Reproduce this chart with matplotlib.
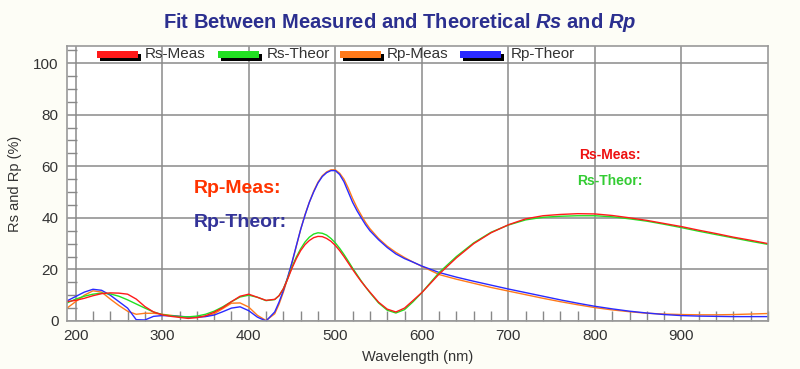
import matplotlib
matplotlib.use("Agg")
import matplotlib.pyplot as plt
from matplotlib.patches import Rectangle
from matplotlib.ticker import MultipleLocator

plt.rcParams['font.family'] = ['Liberation Sans', 'DejaVu Sans']
plt.rcParams['mathtext.fontset'] = 'custom'
plt.rcParams['mathtext.it'] = 'Liberation Sans:italic:bold'
plt.rcParams['mathtext.rm'] = 'Liberation Sans:bold'

# wavelength (nm)
wl = [190, 200, 210, 220, 230, 240, 250, 260, 270, 280, 290, 300, 310, 320, 330,
      340, 350, 360, 370, 380, 390, 400, 410, 420,
      430, 435, 440, 445, 450, 455, 460, 465, 470, 475, 480, 485,
      490, 495, 500, 505, 510, 515, 520, 525, 530, 535, 540,
      550, 560, 570, 580, 590, 600,
      620, 640, 660, 680, 700, 720, 740, 760, 780, 800, 820, 840, 860, 880, 900,
      920, 940, 960, 980, 1000]

rs_meas = [7.5, 8.0, 8.8, 9.8, 10.6, 10.9, 10.8, 10.4, 8.5, 5.6, 3.5, 2.4, 1.8, 1.4, 1.0,
           1.3, 2.0, 3.4, 5.2, 7.5, 9.6, 10.4, 9.2, 8.0,
           8.4, 9.8, 12.5, 16.3, 20.5, 24.2, 27.3, 29.6, 31.2, 32.3, 32.8, 32.7,
           32.0, 30.9, 29.3, 27.3, 25.0, 22.5, 20.0, 17.6, 15.3, 13.2, 11.2,
           7.3, 4.6, 3.5, 5.0, 8.0, 11.0,
           18.2, 24.5, 30.0, 34.2, 37.3, 39.6, 40.8, 41.3, 41.6, 41.5, 40.9, 40.0, 39.0, 37.8, 36.6,
           35.2, 33.9, 32.5, 31.3, 30.0]

rs_theor = [7.0, 8.5, 9.6, 10.4, 10.8, 10.5, 9.6, 8.2, 6.6, 5.0, 3.5, 2.5, 2.0, 1.7, 1.6,
            1.9, 2.6, 3.8, 5.5, 7.5, 9.3, 10.0, 9.2, 7.9,
            8.3, 9.8, 12.5, 16.5, 21.0, 24.8, 28.0, 30.6, 32.5, 33.7, 34.2, 34.0,
            33.3, 32.0, 30.3, 28.2, 25.8, 23.2, 20.5, 18.0, 15.5, 13.2, 11.0,
            7.0, 4.2, 3.1, 4.4, 7.5, 11.0,
            18.8, 25.0, 30.3, 34.4, 37.2, 39.2, 40.2, 40.6, 40.8, 40.8, 40.4, 39.6, 38.7, 37.5, 36.2,
            34.8, 33.5, 32.2, 30.9, 29.7]

rp_meas = [5.0, 7.5, 10.0, 11.7, 11.2, 8.5, 6.0, 3.8, 2.6, 3.0, 3.0, 2.6, 2.2, 1.8, 1.5,
           1.5, 1.8, 2.8, 4.8, 6.9, 7.0, 5.4, 2.2, 0.2,
           2.8, 6.5, 11.2, 16.6, 22.5, 29.0, 35.5, 41.2, 46.0, 50.3, 53.8, 56.3,
           57.8, 58.6, 58.6, 57.3, 55.0, 51.5, 47.5, 44.0, 41.0, 38.2, 35.8,
           32.0, 29.0, 26.6, 24.6, 22.8, 21.2,
           18.0, 16.2, 14.6, 13.0, 11.6, 10.2, 8.8, 7.5, 6.3, 5.2, 4.3, 3.6, 3.0, 2.7, 2.5,
           2.4, 2.4, 2.5, 2.7, 2.9]

rp_theor = [7.8, 9.5, 11.2, 12.3, 11.9, 10.0, 7.5, 5.0, 0.5, 0.4, 1.8, 2.1, 2.0, 1.8, 1.6,
            1.5, 1.7, 2.3, 3.6, 5.0, 5.5, 4.0, 1.5, 0.0,
            3.5, 7.3, 11.8, 17.0, 22.8, 29.2, 35.5, 41.0, 46.0, 50.0, 53.5, 56.0,
            57.5, 58.3, 58.3, 56.8, 54.0, 50.0, 46.0, 42.8, 40.0, 37.3, 35.0,
            31.5, 28.5, 26.0, 24.2, 22.8, 21.3,
            18.8, 17.0, 15.4, 13.9, 12.4, 11.0, 9.6, 8.2, 6.9, 5.7, 4.7, 3.8, 3.1, 2.5, 2.1,
            1.9, 1.8, 1.7, 1.7, 1.7]

names = ['Rs-Meas', 'Rs-Theor', 'Rp-Meas', 'Rp-Theor']
colors = ['#ff1a1a', '#22e022', '#ff7a1a', '#2a2aff']

fig = plt.figure(figsize=(8, 3.69), dpi=100, facecolor='#fdfdf6')
ax = fig.add_axes([67 / 800, 1 - 321 / 369, 701 / 800, 275 / 369])
ax.set_facecolor('white')

# curves (blue/green drawn over their measured partners)
ax.plot(wl, rp_meas, color=colors[2], lw=1.0)
ax.plot(wl, rp_theor, color=colors[3], lw=1.0)
ax.plot(wl, rs_theor, color=colors[1], lw=1.0)
ax.plot(wl, rs_meas, color=colors[0], lw=1.0)

ax.set_xlim(190, 1000)
ax.set_ylim(0, 106.6)
ax.set_xticks([200, 300, 400, 500, 600, 700, 800, 900])
ax.set_yticks([0, 20, 40, 60, 80, 100])
ax.xaxis.set_minor_locator(MultipleLocator(20))
ax.yaxis.set_minor_locator(MultipleLocator(5))
ax.tick_params(which='major', length=0, labelsize=11, labelcolor='#333333', pad=6)
ax.tick_params(which='minor', direction='in', length=7, color='#888888', width=1)
ax.tick_params(axis='y', which='minor', right=False)
ax.tick_params(axis='x', which='minor', top=False)
ax.grid(True, which='major', color='#8a8a8a', lw=1.1)
ax.set_axisbelow(True)
for s in ax.spines.values():
    s.set_color('#999999')
    s.set_linewidth(1.2)

ax.set_xlabel('Wavelength (nm)', fontsize=10.5, color='#333333', labelpad=5)
ax.set_ylabel('Rs and Rp (%)', fontsize=10.5, color='#333333', labelpad=8)

fig.text(0.5, 1 - 22 / 369, 'Fit Between Measured and Theoretical $Rs$ and $Rp$',
         ha='center', va='center', fontsize=14.5, fontweight='bold', color='#2b2f8f',
         family=['Liberation Sans Narrow', 'Liberation Sans'])

# legend strip along the top of the plot box
legend_x = [97, 218, 340, 460]
text_x = [145, 267, 387, 511]
for lx, tx, c, n in zip(legend_x, text_x, colors, names):
    fig.patches.append(Rectangle(((lx + 3) / 800, 1 - 61 / 369), 41 / 800, 7 / 369,
                                 transform=fig.transFigure, facecolor='black',
                                 edgecolor='none'))
    fig.patches.append(Rectangle((lx / 800, 1 - 58 / 369), 41 / 800, 7 / 369,
                                 transform=fig.transFigure, facecolor=c,
                                 edgecolor='none'))
    fig.text(tx / 800, 1 - 54 / 369, n, ha='left', va='center', fontsize=11,
             color='#333333')

# curve labels inside the plot
ax.text(337, 51.5, 'Rp-Meas:', color='#ff3300', fontsize=14, fontweight='bold',
        ha='left', va='center')
ax.text(337, 38.3, 'Rp-Theor:', color='#333399', fontsize=14, fontweight='bold',
        ha='left', va='center')
ax.text(782, 64.3, 'Rs-Meas:', color='#ee1111', fontsize=10, fontweight='bold',
        ha='left', va='center')
ax.text(780, 54.2, 'Rs-Theor:', color='#33cc33', fontsize=10, fontweight='bold',
        ha='left', va='center')

fig.savefig('out.png', dpi=100, facecolor=fig.get_facecolor())
